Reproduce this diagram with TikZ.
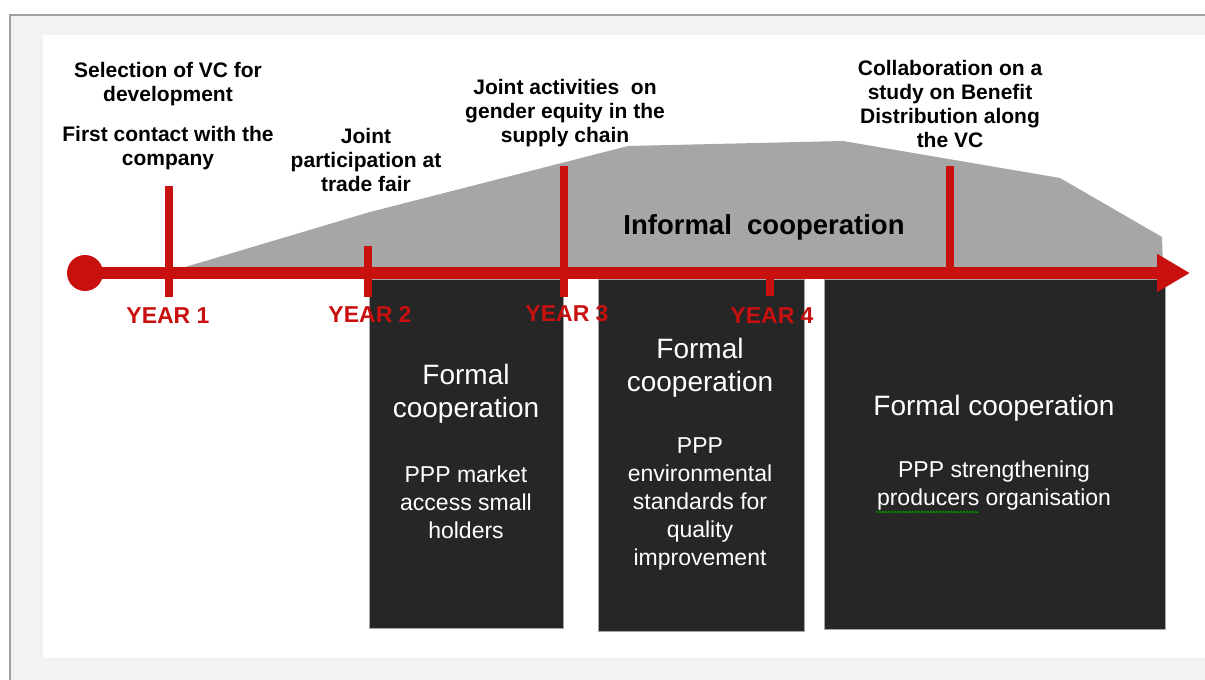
\documentclass[tikz,border=0pt]{standalone}
\usepackage{fontspec}
\setmainfont{Liberation Sans}
\usetikzlibrary{arrows.meta,decorations.pathmorphing}
\definecolor{tlred}{HTML}{C8100F}
\definecolor{polygray}{HTML}{A6A6A6}
\definecolor{boxdark}{HTML}{262626}
\definecolor{framegray}{HTML}{F2F2F2}
\definecolor{frameline}{HTML}{A0A0A0}
\tikzset{
  toplabel/.style={font=\bfseries\fontsize{21}{24}\selectfont, align=center, text=black, inner sep=0pt},
  yearlabel/.style={font=\bfseries\fontsize{23}{26}\selectfont, text=tlred, inner sep=0pt},
  darkbox/.style={fill=boxdark, draw=gray!70, line width=0.8pt},
  titletext/.style={font=\fontsize{28}{33}\selectfont, text=white, align=center, inner sep=0pt},
  bodytext/.style={font=\fontsize{23}{28}\selectfont, text=white, align=center, inner sep=0pt},
  tick/.style={draw=tlred, line width=8pt},
}
\begin{document}
\begin{tikzpicture}[x=1pt,y=-1pt]
\useasboundingbox (0,0) rectangle (1205,680);
% frame
\fill[framegray] (10,15) rectangle (1205,680);
\fill[white] (43,35) rectangle (1205,658);
\draw[frameline, line width=1.2pt] (10,680) -- (10,15) -- (1205,15);
% informal cooperation polygon
\fill[polygray] (182,268) -- (370,212) -- (628,146) -- (843,141) -- (1060,178) -- (1162,237) -- (1163,268) -- cycle;
\node[font=\bfseries\fontsize{27.5}{30}\selectfont, inner sep=0pt] (informal) at (764,227) {Informal\ \ cooperation};
% dark boxes
\node[darkbox, minimum width=194pt, minimum height=349pt, anchor=north west, inner sep=0pt] (box1) at (369,279) {};
\node[darkbox, minimum width=206pt, minimum height=352pt, anchor=north west, inner sep=0pt] (box2) at (598,279) {};
\node[darkbox, minimum width=341pt, minimum height=350pt, anchor=north west, inner sep=0pt] (box3) at (824,279) {};
% timeline
\node[circle, fill=tlred, minimum size=36pt, inner sep=0pt] (start) at (85,273) {};
\coordinate (tip) at (1190,273);
\draw[tlred, line width=12pt, -{Triangle[length=33pt,width=36pt]}] (start.center) -- (tip);
% ticks
\coordinate (t1) at (169,273);
\coordinate (t2) at (368,273);
\coordinate (t3) at (564,273);
\coordinate (t4) at (770,273);
\coordinate (t5) at (950,273);
\draw[tick] ([yshift=87pt]t1) -- ([yshift=-24pt]t1);
\draw[tick] ([yshift=27pt]t2) -- ([yshift=-24pt]t2);
\draw[tick] ([yshift=107pt]t3) -- ([yshift=-24pt]t3);
\draw[tick] (t4) -- ([yshift=-23pt]t4);
\draw[tick] ([yshift=107pt]t5) -- (t5);
% year labels
\node[yearlabel] (y1) at (168,316) {YEAR 1};
\node[yearlabel] (y2) at (370,314) {YEAR 2};
\node[yearlabel] (y3) at (567,314) {YEAR 3};
\node[yearlabel] (y4) at (772,316) {YEAR 4};
% top labels
\node[toplabel] (l1) at (168,116) {Selection of VC for\\development\\[16pt]First contact with the\\company};
\node[toplabel] (l2) at (366,160) {Joint\\participation at\\trade fair};
\node[toplabel] (l3) at (565,113) {Joint activities\ \ on\\gender equity in the\\supply chain};
\node[toplabel] (l4) at (950,104) {Collaboration on a\\study on Benefit\\Distribution along\\the VC};
% box texts
\node[titletext] (b1t) at (466,394) {Formal\\cooperation};
\node[bodytext] (b1b) at (466,502) {PPP market\\access small\\holders};
\node[titletext] (b2t) at (700,368) {Formal\\cooperation};
\node[bodytext] (b2b) at (700,504) {PPP\\environmental\\standards for\\quality\\improvement};
\node[titletext] (b3t) at (994,408) {Formal cooperation};
\node[bodytext] (b3b) at (994,486) {PPP strengthening\\producers organisation};
% spell-check squiggle
\draw[green!60!black, line width=0.7pt, decorate, decoration={zigzag, segment length=3pt, amplitude=0.8pt}] (876,512) -- (979,512);
\end{tikzpicture}
\end{document}
